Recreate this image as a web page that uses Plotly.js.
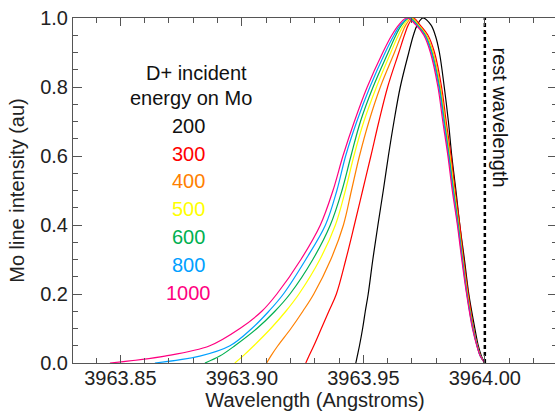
<!DOCTYPE html>
<html>
<head>
<meta charset="utf-8">
<script src="https://cdn.plot.ly/plotly-3.0.1.min.js"></script>
<style>
  html, body { margin: 0; padding: 0; background: #fff; overflow: hidden; }
  #chart { width: 557px; height: 411px; }
</style>
</head>
<body>
<div id="chart"></div>
<script>
// Intensity levels (au) at which the wavelength of each profile was read (rising side, peak, falling side)
const intensityLevels = [0, 0.02, 0.05, 0.1, 0.15, 0.2, 0.3, 0.4, 0.5, 0.6, 0.7, 0.8, 0.9, 0.95, 0.98, 1,
                         0.98, 0.95, 0.9, 0.8, 0.7, 0.6, 0.5, 0.4, 0.3, 0.2, 0.1, 0.05, 0.02, 0];

// Wavelength (Angstroms) of each profile at those intensity levels
const wl200 = [3963.9469,3963.9475,3963.9484,3963.9497,3963.9508,3963.9520,3963.9539,3963.9560,3963.9582,3963.9603,3963.9626,3963.9652,3963.9687,3963.9706,3963.9722,3963.9745,
               3963.9778,3963.9796,3963.9813,3963.9833,3963.9850,3963.9864,3963.9881,3963.9897,3963.9916,3963.9934,3963.9959,3963.9973,3963.9986,3964.0000];
const wl300 = [3963.9263,3963.9276,3963.9296,3963.9327,3963.9358,3963.9389,3963.9428,3963.9463,3963.9497,3963.9531,3963.9564,3963.9600,3963.9646,3963.9669,3963.9685,3963.9706,
               3963.9733,3963.9766,3963.9793,3963.9822,3963.9841,3963.9861,3963.9878,3963.9897,3963.9913,3963.9932,3963.9954,3963.9970,3963.9983,3964.0000];
const wl400 = [3963.9102,3963.9119,3963.9148,3963.9202,3963.9251,3963.9296,3963.9366,3963.9418,3963.9451,3963.9484,3963.9523,3963.9570,3963.9628,3963.9656,3963.9675,3963.9700,
               3963.9727,3963.9760,3963.9787,3963.9817,3963.9837,3963.9857,3963.9874,3963.9893,3963.9910,3963.9929,3963.9952,3963.9969,3963.9982,3964.0000];
const wl500 = [3963.8971,3963.9004,3963.9049,3963.9119,3963.9181,3963.9235,3963.9321,3963.9385,3963.9426,3963.9461,3963.9502,3963.9554,3963.9613,3963.9644,3963.9667,3963.9695,
               3963.9725,3963.9758,3963.9785,3963.9815,3963.9835,3963.9855,3963.9873,3963.9892,3963.9909,3963.9928,3963.9951,3963.9968,3963.9982,3964.0000];
const wl600 = [3963.8848,3963.8909,3963.8971,3963.9062,3963.9136,3963.9198,3963.9292,3963.9364,3963.9412,3963.9449,3963.9488,3963.9540,3963.9602,3963.9634,3963.9658,3963.9691,
               3963.9722,3963.9755,3963.9782,3963.9813,3963.9833,3963.9853,3963.9871,3963.9891,3963.9908,3963.9927,3963.9951,3963.9968,3963.9982,3964.0000];
const wl800 = [3963.8642,3963.8827,3963.8951,3963.9041,3963.9111,3963.9171,3963.9263,3963.9344,3963.9391,3963.9427,3963.9473,3963.9527,3963.9590,3963.9626,3963.9652,3963.9687,
               3963.9720,3963.9753,3963.9780,3963.9811,3963.9831,3963.9851,3963.9869,3963.9889,3963.9907,3963.9926,3963.9950,3963.9968,3963.9981,3964.0000];
const wl1000 = [3963.8457,3963.8683,3963.8868,3963.8992,3963.9082,3963.9144,3963.9243,3963.9323,3963.9375,3963.9416,3963.9463,3963.9516,3963.9580,3963.9617,3963.9646,3963.9679,
                3963.9716,3963.9749,3963.9776,3963.9807,3963.9827,3963.9848,3963.9866,3963.9887,3963.9905,3963.9925,3963.9949,3963.9967,3963.9981,3964.0000];

const energies = ['200', '300', '400', '500', '600', '800', '1000'];
const profiles = [wl200, wl300, wl400, wl500, wl600, wl800, wl1000];
const restWavelength = 3964.00;

const xTickVals = [3963.85, 3963.90, 3963.95, 3964.00];
const xTickText = ['3963.85', '3963.90', '3963.95', '3964.00'];
const yTickVals = [0, 0.2, 0.4, 0.6, 0.8, 1.0];
const yTickText = ['0.0', '0.2', '0.4', '0.6', '0.8', '1.0'];

const colors = ['#000000', '#ff0000', '#ff8000', '#ffff00', '#00b050', '#00a0ff', '#ff0080'];
const FONT = 'Liberation Sans, Arial, sans-serif';

const traces = profiles.map((wl, i) => ({
  x: wl, y: intensityLevels, type: 'scatter', mode: 'lines',
  name: energies[i],
  line: { color: colors[i], width: 1.2, shape: 'spline', smoothing: 1 },
  showlegend: false, hoverinfo: 'skip'
}));

traces.push({
  x: [restWavelength, restWavelength], y: [0, 1], type: 'scatter', mode: 'lines',
  name: 'rest wavelength',
  line: { color: '#000000', width: 2.5, dash: '4px,3px' },
  showlegend: false, hoverinfo: 'skip'
});

const L = 73, PW = 484, T = 18, PH = 345;
const px = v => (v - L) / PW;
const py = v => (T + PH - v) / PH;

const annotations = [];
annotations.push({ text: 'D+ incident', x: px(196), y: py(73), xref: 'paper', yref: 'paper',
  showarrow: false, xanchor: 'center', yanchor: 'middle', font: { family: FONT, size: 20, color: '#111' } });
annotations.push({ text: 'energy on Mo', x: px(191), y: py(98), xref: 'paper', yref: 'paper',
  showarrow: false, xanchor: 'center', yanchor: 'middle', font: { family: FONT, size: 20, color: '#111' } });
const labelY = [125.8, 153.6, 181.4, 209.2, 237, 264.8, 292.6];
energies.forEach((e, i) => {
  annotations.push({ text: e, x: px(188.5), y: py(labelY[i]), xref: 'paper', yref: 'paper',
    showarrow: false, xanchor: 'center', yanchor: 'middle',
    font: { family: FONT, size: 20, color: colors[i] === '#000000' ? '#111' : colors[i] } });
});
annotations.push({ text: 'rest wavelength', x: px(499.5), y: py(117), xref: 'paper', yref: 'paper',
  showarrow: false, textangle: 90, xanchor: 'center', yanchor: 'middle',
  font: { family: FONT, size: 20, color: '#111' } });

const axisCommon = {
  showgrid: false, zeroline: false, showline: true, linecolor: '#555', linewidth: 1,
  mirror: 'allticks', ticks: 'inside', tickcolor: '#555', tickwidth: 1,
  tickfont: { family: FONT, size: 20, color: '#222' }
};

const layout = {
  width: 557, height: 411,
  margin: { l: L, r: 0, t: T, b: 48 },
  paper_bgcolor: '#ffffff', plot_bgcolor: '#ffffff',
  xaxis: Object.assign({}, axisCommon, {
    range: [3963.8305, 3964.0297],
    tickvals: xTickVals, ticktext: xTickText, ticklen: 8,
    ticklabelstandoff: -3,
    minor: { dtick: 0.01, tick0: 3963.85, ticks: 'inside', ticklen: 5, tickcolor: '#555', tickwidth: 1 },
    title: { text: 'Wavelength (Angstroms)', font: { family: FONT, size: 20, color: '#222' }, standoff: 13 }
  }),
  yaxis: Object.assign({}, axisCommon, {
    range: [0, 1],
    tickvals: yTickVals, ticktext: yTickText, ticklen: 9,
    minor: { dtick: 0.05, tick0: 0, ticks: 'inside', ticklen: 5, tickcolor: '#555', tickwidth: 1 },
    title: { text: 'Mo line intensity (au)', font: { family: FONT, size: 20, color: '#222' }, standoff: 10 }
  }),
  annotations: annotations,
  showlegend: false
};

Plotly.newPlot('chart', traces, layout, { staticPlot: true, displayModeBar: false });
</script>
</body>
</html>
